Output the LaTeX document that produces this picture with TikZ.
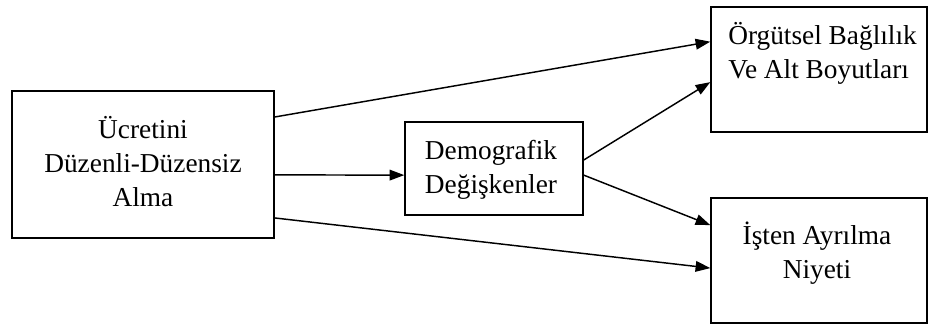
\documentclass[tikz,border=0pt]{standalone}
\usepackage{fontspec}
\setmainfont{Liberation Serif}
\newfontfamily\tnr{Liberation Serif}
\usetikzlibrary{arrows.meta,calc}

\tikzset{
  kutu/.style={draw,line width=1.1pt,inner sep=0pt},
  yazi/.style={font=\tnr\fontsize{20.5}{25.5}\selectfont,align=center,inner sep=0pt},
  ok/.style={line width=1.1pt,-{Triangle[length=11pt,width=8pt]}}
}

\begin{document}
\begin{tikzpicture}[x=0.75pt,y=-0.75pt]
  \useasboundingbox (0,0) rectangle (928,325);
  % Boxes
  \node[kutu,minimum width=262*0.75pt,minimum height=147*0.75pt] (alma) at (143,164.5) {};
  \node[kutu,minimum width=178*0.75pt,minimum height=93*0.75pt] (demo) at (494,168.5) {};
  \node[kutu,minimum width=216*0.75pt,minimum height=125*0.75pt] (orgut) at (819,69.5) {};
  \node[kutu,minimum width=216*0.75pt,minimum height=125*0.75pt] (niyet) at (819,260.5) {};
  % Texts
  \node[yazi] (almatext) at (143,162) {Ücretini\\Düzenli-Düzensiz\\Alma};
  \node[yazi] (demotext) at (491,170) {Demografik\\Değişkenler};
  \node[yazi,align=left,anchor=north west] (orguttext) at (728,22) {Örgütsel Bağlılık\\Ve Alt Boyutları};
  \node[yazi] (niyettext) at (817,253) {İşten Ayrılma\\Niyeti};
  % Arrows
  \draw[ok] ($(alma.north east)!0.18!(alma.south east)$) -- ($(orgut.north west)!0.28!(orgut.south west)$);
  \draw[ok] ($(alma.north east)!0.57!(alma.south east)$) -- ($(demo.north west)!0.57!(demo.south west)$);
  \draw[ok] ($(alma.north east)!0.86!(alma.south east)$) -- ($(niyet.north west)!0.56!(niyet.south west)$);
  \draw[ok] ($(demo.north east)!0.41!(demo.south east)$) -- ($(orgut.north west)!0.6!(orgut.south west)$);
  \draw[ok] ($(demo.north east)!0.57!(demo.south east)$) -- ($(niyet.north west)!0.22!(niyet.south west)$);
\end{tikzpicture}
\end{document}
